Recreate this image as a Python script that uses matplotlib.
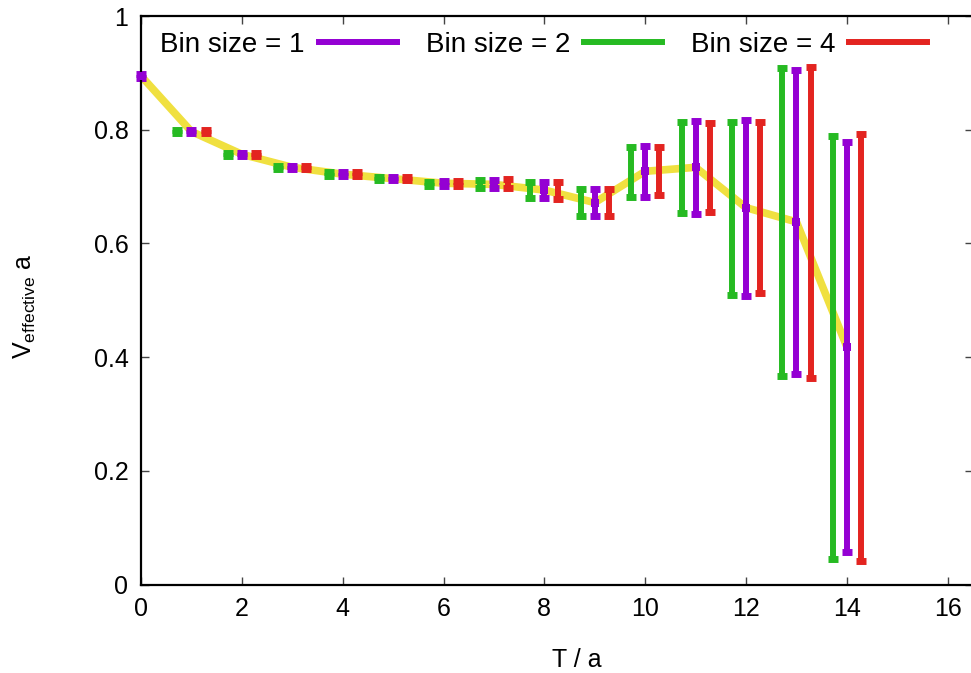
import matplotlib
matplotlib.use("Agg")
import matplotlib.pyplot as plt
from matplotlib.lines import Line2D

plt.rcParams['font.family'] = ['Liberation Sans', 'DejaVu Sans']
plt.rcParams['mathtext.fontset'] = 'custom'
plt.rcParams['mathtext.rm'] = 'Liberation Sans'

# bin size = 1 (purple), T = 0..14
t1 = list(range(0, 15))
v1 = [0.895, 0.797, 0.757, 0.734, 0.722, 0.714, 0.706, 0.704, 0.694, 0.672,
      0.727, 0.734, 0.663, 0.638, 0.418]
e1 = [0.003, 0.003, 0.003, 0.003, 0.003, 0.003, 0.004, 0.007, 0.014, 0.024,
      0.045, 0.082, 0.155, 0.267, 0.360]

# bin size = 2 (green), T = 1..14
t2 = list(range(1, 15))
v2 = [0.797, 0.757, 0.734, 0.722, 0.714, 0.705, 0.704, 0.6945, 0.6715,
      0.7265, 0.7335, 0.662, 0.6375, 0.417]
e2 = [0.003, 0.003, 0.003, 0.003, 0.003, 0.004, 0.007, 0.014, 0.024,
      0.044, 0.080, 0.152, 0.271, 0.373]

# bin size = 4 (red), T = 1..14
t4 = list(range(1, 15))
v4 = [0.797, 0.757, 0.734, 0.722, 0.714, 0.706, 0.705, 0.6935, 0.6715,
      0.7275, 0.7335, 0.663, 0.637, 0.4175]
e4 = [0.003, 0.003, 0.003, 0.003, 0.003, 0.004, 0.008, 0.015, 0.024,
      0.043, 0.078, 0.150, 0.274, 0.376]

labels = ['Bin size = 1', 'Bin size = 2', 'Bin size = 4']
purple = '#9400d3'
green = '#26ba22'
red = '#e32420'
yellow = '#f0e040'
shift = 0.28

fig = plt.figure(figsize=(9.71, 6.73), dpi=100)
ax = fig.add_axes([0.1452, 0.1315, 0.8568, 0.8445])

ax.plot(t1, v1, color=yellow, lw=5.5, zorder=1, solid_capstyle='round')

eb = dict(fmt='none', elinewidth=4.3, capsize=3.5, capthick=5, zorder=2)
ax.errorbar([t - shift for t in t2], v2, yerr=e2, ecolor=green, **eb)
ax.errorbar(t1, v1, yerr=e1, ecolor=purple, clip_on=False, **eb)
ax.errorbar([t + shift for t in t4], v4, yerr=e4, ecolor=red, **eb)
ax.plot(t1, v1, 's', color=purple, ms=6, mew=0, zorder=3, clip_on=False)

ax.set_xlim(0, 16.5)
ax.set_ylim(0, 1)
ax.set_xticks(range(0, 17, 2))
ax.set_yticks([0, 0.2, 0.4, 0.6, 0.8, 1])
ax.set_yticklabels(['0', '0.2', '0.4', '0.6', '0.8', '1'])
ax.tick_params(direction='in', length=6, width=1, labelsize=18,
               top=True, right=True, pad=9, color='#444444')
for s in ax.spines.values():
    s.set_linewidth(1.6)

ax.set_xlabel('T / a', fontsize=18)
ax.xaxis.set_label_coords(0.5235, -0.112)
ax.set_ylabel(r'V$_{\mathregular{effective}}$ a', fontsize=18)
ax.yaxis.set_label_coords(-0.124, 0.49)

handles = [Line2D([], [], color=c, lw=4.3) for c in (purple, green, red)]
fig.legend(handles, labels, loc='center', ncol=3, frameon=False,
           markerfirst=False, fontsize=20, handlelength=2.8,
           handletextpad=0.5, columnspacing=1.05, borderpad=0,
           bbox_to_anchor=(0.56, 0.933), bbox_transform=fig.transFigure)

fig.savefig('out.png', dpi=100)
